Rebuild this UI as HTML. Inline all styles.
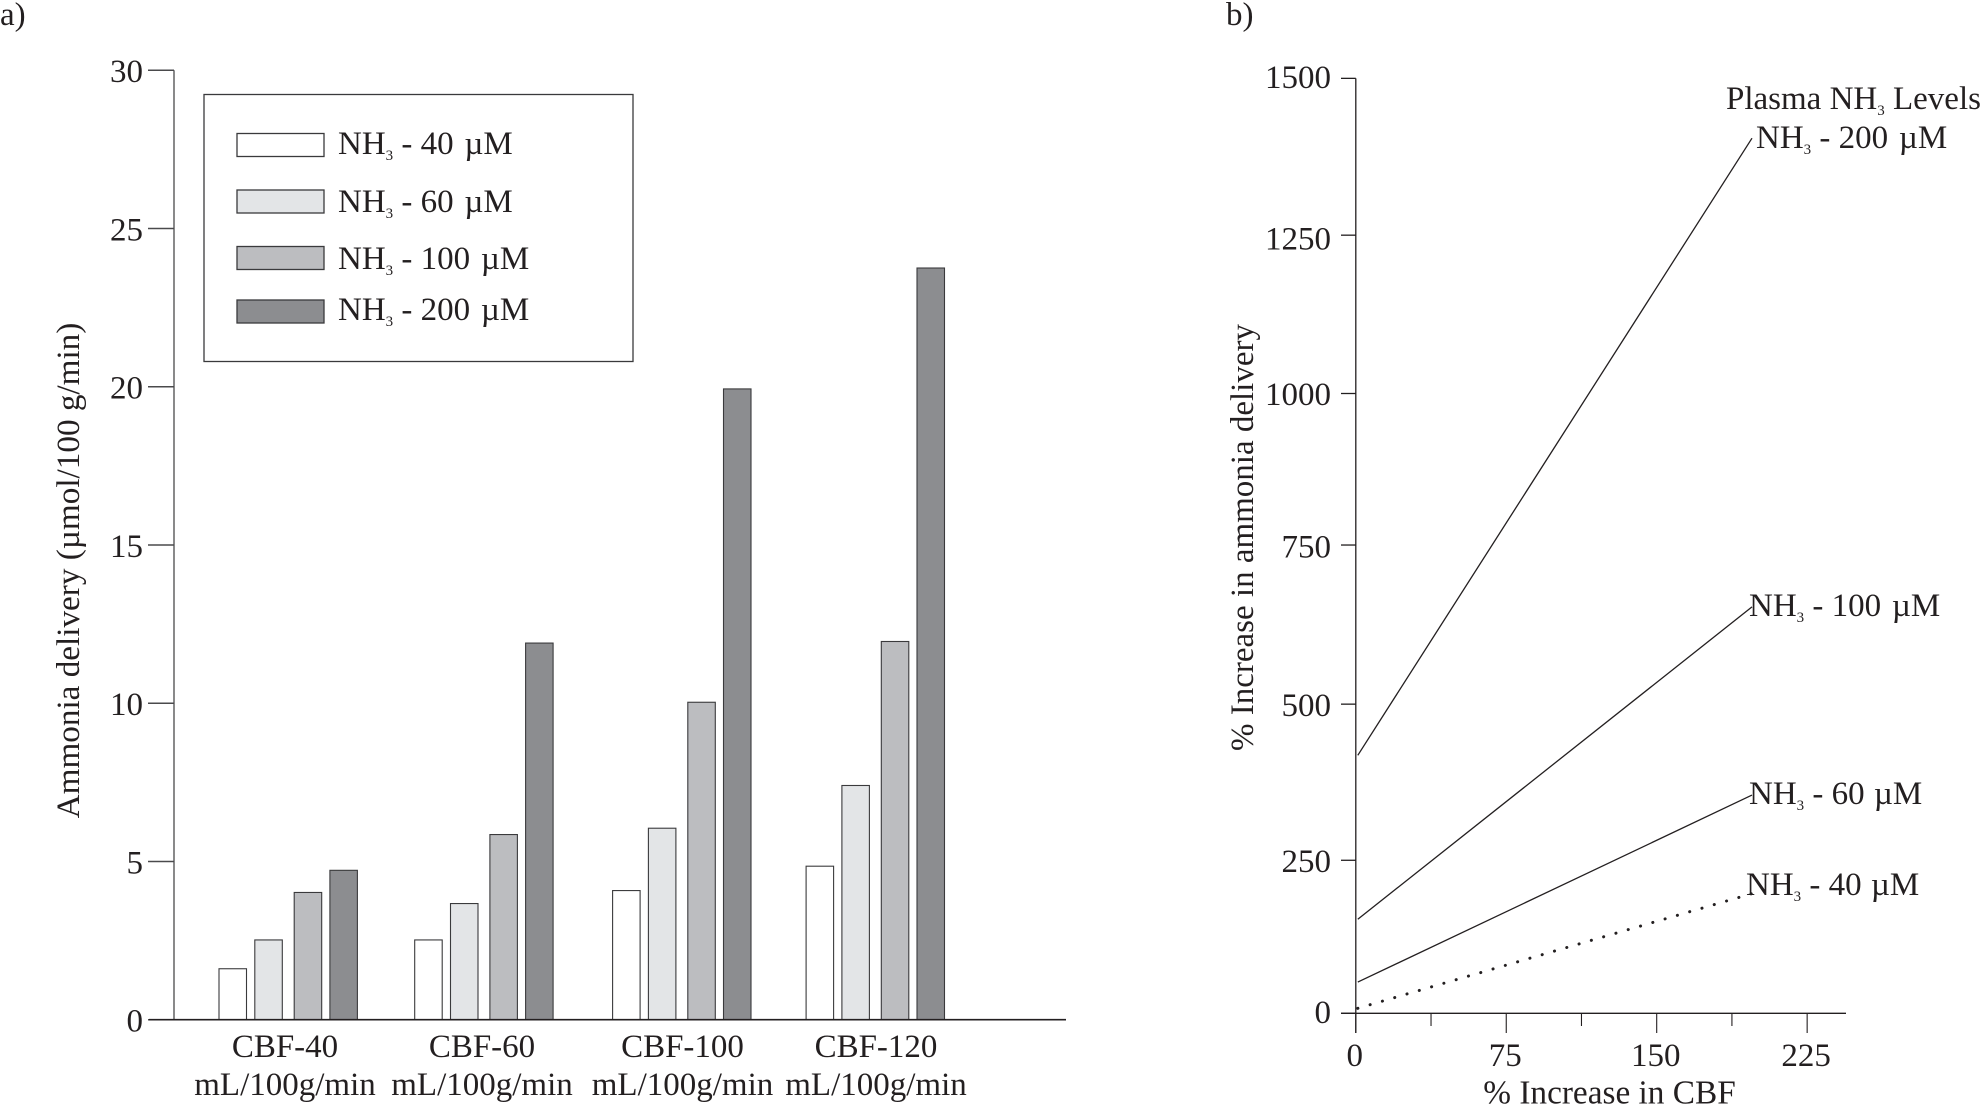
<!DOCTYPE html>
<html lang="en">
<head>
<meta charset="utf-8">
<title>Ammonia delivery vs cerebral blood flow</title>
<style>
html,body{margin:0;padding:0;background:#fff;}
svg{display:block;}
text{font-family:"Liberation Serif","DejaVu Serif",serif;font-size:33px;fill:#231f20;}
tspan.sub{font-size:15px;}
</style>
</head>
<body>
<svg id="figure" xmlns="http://www.w3.org/2000/svg" width="1982" height="1105" viewBox="0 0 1982 1105">
  <rect width="1982" height="1105" fill="#fff"/>
  <text x="0" y="25">a)</text>
  <text x="1226" y="25">b)</text>

  <g id="panelA"></g>
  <g id="panelB"></g>

  <text transform="translate(79,570.5) rotate(-90)" text-anchor="middle" style="font-size:33.2px">Ammonia delivery (µmol/100 g/min)</text>
  <text transform="translate(1253,537.5) rotate(-90)" text-anchor="middle">% Increase in ammonia delivery</text>
  <text x="1609.5" y="1103.5" text-anchor="middle" style="font-size:33.3px">% Increase in CBF</text>

  <g>
    <rect x="204" y="94.5" width="429" height="267" fill="#fff" stroke="#3a3a3c" stroke-width="1.3"/>
    <rect x="237" y="133.5" width="87" height="23" fill="#ffffff" stroke="#3a3a3c" stroke-width="1.3"/>
    <rect x="237" y="190" width="87" height="23" fill="#e3e5e7" stroke="#3a3a3c" stroke-width="1.3"/>
    <rect x="237" y="246.5" width="87" height="23" fill="#bcbdc0" stroke="#3a3a3c" stroke-width="1.3"/>
    <rect x="237" y="300" width="87" height="23" fill="#8c8d90" stroke="#3a3a3c" stroke-width="1.3"/>
    <text x="338" y="154">NH<tspan class="sub" dy="6">3</tspan><tspan dy="-6"> - 40 </tspan><tspan dx="2.5">µM</tspan></text>
    <text x="338" y="212">NH<tspan class="sub" dy="6">3</tspan><tspan dy="-6"> - 60 </tspan><tspan dx="2.5">µM</tspan></text>
    <text x="338" y="269">NH<tspan class="sub" dy="6">3</tspan><tspan dy="-6"> - 100 </tspan><tspan dx="2.5">µM</tspan></text>
    <text x="338" y="320">NH<tspan class="sub" dy="6">3</tspan><tspan dy="-6"> - 200 </tspan><tspan dx="2.5">µM</tspan></text>
  </g>

  <text x="1726" y="109">Plasma NH<tspan class="sub" dy="6">3</tspan><tspan dy="-6"> Levels</tspan></text>
  <text x="1756" y="148">NH<tspan class="sub" dy="6">3</tspan><tspan dy="-6"> - 200 </tspan><tspan dx="2.5">µM</tspan></text>
  <text x="1749" y="616">NH<tspan class="sub" dy="6">3</tspan><tspan dy="-6"> - 100 </tspan><tspan dx="2.5">µM</tspan></text>
  <text x="1749" y="804">NH<tspan class="sub" dy="6">3</tspan><tspan dy="-6"> - 60 </tspan><tspan dx="1">µM</tspan></text>
  <text x="1746" y="895">NH<tspan class="sub" dy="6">3</tspan><tspan dy="-6"> - 40 </tspan><tspan dx="1">µM</tspan></text>
</svg>

<script>
// Panel a data
const cbfGroups = ["CBF-40", "CBF-60", "CBF-100", "CBF-120"];
const cbfUnit = "mL/100g/min";
const delivery40 = [1.61, 2.52, 4.08, 4.85];
const delivery60 = [2.52, 3.67, 6.05, 7.4];
const delivery100 = [4.02, 5.85, 10.03, 11.95];
const delivery200 = [4.72, 11.9, 19.93, 23.75];
const deliveryTicks = [0, 5, 10, 15, 20, 25, 30];

// Panel b data
const cbfIncrease = [1, 197.5];
const increase200 = [414, 1404];
const increase100 = [151, 652];
const increase60 = [50, 350];
const increase40 = [8, 192];
const increaseTicks = [0, 250, 500, 750, 1000, 1250, 1500];
const cbfTicksMajor = [0, 75, 150, 225];
const cbfTicksMinor = [37.5, 112.5, 187.5];

const NS = "http://www.w3.org/2000/svg";
const INK = "#231f20";
const barFills = ["#ffffff", "#e3e5e7", "#bcbdc0", "#8c8d90"];
const barSeries = [delivery40, delivery60, delivery100, delivery200];

function make(tag, parent, attrs) {
  const el = document.createElementNS(NS, tag);
  for (const k in attrs) el.setAttribute(k, attrs[k]);
  parent.appendChild(el);
  return el;
}

// Panel a axes
const panelA = document.getElementById("panelA");
const yA = v => 1019.7 - v * 31.65;
// the third cluster sits slightly right of an even spacing in the source figure
const groupX = i => 219 + 195.7 * i + (i === 2 ? 2.2 : 0);
const seriesOffset = s => [0, 35.8, 75.2, 110.9][s];
const labelX = i => 285 + 197 * i + (i === 2 ? 3.5 : 0);
const BAR_W = 27.5;

const axisYA = make("line", panelA, {x1: 174, x2: 174, y1: yA(30), y2: yA(0), stroke: "#4a4a4c", "stroke-width": 1.3});



deliveryTicks.forEach(t => {
  const tick = make("line", panelA, {x1: 148, x2: 174, y1: yA(t), y2: yA(t), stroke: "#4a4a4c", "stroke-width": 1.5});
  
  
  const label = make("text", panelA, {x: 143, y: yA(t) + 12, "text-anchor": "end"});
  label.textContent = t;
  
  
});

barSeries.forEach((series, s) => {
  series.forEach((v, i) => {
    const bar = make("rect", panelA, {
      x: groupX(i) + seriesOffset(s),
      y: yA(v),
      width: BAR_W,
      height: yA(0) - yA(v),
      fill: barFills[s],
      stroke: "#3a3a3c",
      "stroke-width": 1.1
    });
    
    
  });
});

const axisXA = make("line", panelA, {x1: 149, x2: 1066, y1: yA(0), y2: yA(0), stroke: INK, "stroke-width": 1.6});



cbfGroups.forEach((name, i) => {
  const top = make("text", panelA, {x: labelX(i), y: 1057, "text-anchor": "middle"});
  top.textContent = name;
  
  
  const bottom = make("text", panelA, {x: labelX(i), y: 1095, "text-anchor": "middle"});
  bottom.textContent = cbfUnit;
  
  
});

// Panel b axes
const panelB = document.getElementById("panelB");
const yB = v => 1013.3 - v * 0.6233;
const xB = v => 1355.8 + v * 2.006;
// the source figure's hand-set ticks deviate a little from even spacing
function tickNudge(t) {
  if (t === 1250) return 1;
  if (t === 1000) return 3.5;
  if (t === 750) return -0.8;
  if (t === 500) return 2.5;
  if (t === 250) return 2.8;
  return 0;
}
function labelNudge(t) {
  if (t === 1500) return -1.8;
  if (t === 1250) return 4;
  if (t === 1000) return 3.6;
  if (t === 750) return 0;
  if (t === 500) return 2.8;
  if (t === 250) return 2.8;
  if (t === 0) return -1.8;
  return 0;
}

const axisYB = make("line", panelB, {x1: xB(0), x2: xB(0), y1: yB(1500), y2: 1033, stroke: INK, "stroke-width": 1.3});


const axisXB = make("line", panelB, {x1: 1341, x2: 1846, y1: yB(0), y2: yB(0), stroke: INK, "stroke-width": 1.3});



increaseTicks.forEach(t => {
  const tick = make("line", panelB, {x1: 1341, x2: xB(0), y1: yB(t) + tickNudge(t), y2: yB(t) + tickNudge(t), stroke: INK, "stroke-width": 1.3});
  
  
  const label = make("text", panelB, {x: 1331, y: yB(t) + 11.5 + labelNudge(t), "text-anchor": "end"});
  label.textContent = t;
  
  
});

cbfTicksMajor.forEach(t => {
  const tick = make("line", panelB, {x1: xB(t), x2: xB(t), y1: yB(0), y2: 1033, stroke: INK, "stroke-width": 1.1});
  
  
  const label = make("text", panelB, {x: xB(t) - 1, y: 1066, "text-anchor": "middle"});
  label.textContent = t;
  
  
});

cbfTicksMinor.forEach(t => {
  const tick = make("line", panelB, {x1: xB(t), x2: xB(t), y1: yB(0), y2: 1026, stroke: INK, "stroke-width": 1.1});
  
  
});

function pointsOf(values) {
  return values.map((v, i) => xB(cbfIncrease[i]).toFixed(1) + "," + yB(v).toFixed(1)).join(" ");
}

const line200 = make("polyline", panelB, {points: pointsOf(increase200), fill: "none", stroke: INK, "stroke-width": 1.3});


const line100 = make("polyline", panelB, {points: pointsOf(increase100), fill: "none", stroke: INK, "stroke-width": 1.3});


const line60 = make("polyline", panelB, {points: pointsOf(increase60), fill: "none", stroke: INK, "stroke-width": 1.3});


const line40 = make("polyline", panelB, {points: pointsOf(increase40), fill: "none", stroke: INK, "stroke-width": 3, "stroke-dasharray": "0.1 12.7", "stroke-linecap": "round"});


</script>
</body>
</html>
